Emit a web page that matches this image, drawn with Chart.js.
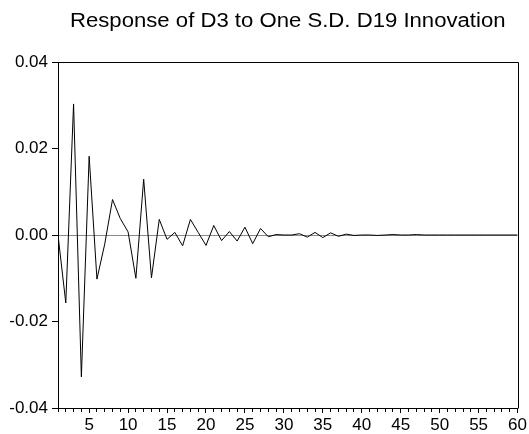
<!DOCTYPE html>
<html>
<head>
<meta charset="utf-8">
<script src="https://cdn.jsdelivr.net/npm/chart.js@4/dist/chart.umd.min.js"></script>
<style>
  html, body { margin: 0; padding: 0; background: #fff; }
  canvas { display: block; }
</style>
</head>
<body>
<canvas id="irf-canvas" width="529" height="434"></canvas>
<script>
// Impulse response: D3 to a one S.D. shock in D19
const periods = [
  1, 2, 3, 4, 5, 6, 7, 8, 9, 10,
  11, 12, 13, 14, 15, 16, 17, 18, 19, 20,
  21, 22, 23, 24, 25, 26, 27, 28, 29, 30,
  31, 32, 33, 34, 35, 36, 37, 38, 39, 40,
  41, 42, 43, 44, 45, 46, 47, 48, 49, 50,
  51, 52, 53, 54, 55, 56, 57, 58, 59, 60
];
const response = [
  0.0000, -0.0157, 0.0303, -0.0328, 0.0182, -0.0102, -0.0021, 0.0082, 0.0038, 0.0007,
  -0.0100, 0.0129, -0.0099, 0.0036, -0.0010, 0.0006, -0.0025, 0.0036, 0.0006, -0.0024,
  0.0022, -0.0013, 0.0008, -0.0014, 0.0018, -0.0020, 0.0015, -0.0004, 0.0001, 0.0000,
  0.0000, 0.0003, -0.0005, 0.0006, -0.0006, 0.0005, -0.0003, 0.0002, -0.0001, 0.0000,
  0.0000, -0.0001, 0.0000, 0.0001, 0.0000, 0.0000, 0.0001, 0.0000, 0.0000, 0.0000,
  0.0000, 0.0000, 0.0000, 0.0000, 0.0000, 0.0000, 0.0000, 0.0000, 0.0000, 0.0000
];
const yTicks = [-0.04, -0.02, 0.00, 0.02, 0.04];
const xLabelEvery = 5;
const titleText = 'Response of D3 to One S.D. D19 Innovation';

const FONT = 'Liberation Sans, Arial, sans-serif';
Chart.defaults.font.family = FONT;
Chart.defaults.color = '#000';

// top and right sides of the plot box, plus the title centred over the plot
const frameBox = {
  id: 'frameBox',
  afterDatasetsDraw(chart) {
    const { ctx, chartArea } = chart;
    const l = Math.round(chartArea.left) + 0.5;
    const t = Math.round(chartArea.top) + 0.5;
    const r = Math.round(chartArea.right) + 0.5;
    const b = Math.round(chartArea.bottom) + 0.5;
    ctx.save();
    ctx.strokeStyle = '#000';
    ctx.lineWidth = 1;
    ctx.beginPath();
    ctx.moveTo(l, t);
    ctx.lineTo(r, t);
    ctx.lineTo(r, b);
    ctx.stroke();

    // title text is a little wide for its height, so stretch it sideways
    const cx = (chartArea.left + chartArea.right) / 2;
    ctx.translate(cx, 27);
    ctx.scale(1.135, 1);
    ctx.fillStyle = '#000';
    ctx.font = '19.5px ' + FONT;
    ctx.textAlign = 'center';
    ctx.textBaseline = 'alphabetic';
    ctx.fillText(titleText, 0, 0);
    ctx.restore();
  }
};

const ctx = document.getElementById('irf-canvas');

const irfChart = new Chart(ctx, {
  type: 'line',
  data: {
    datasets: [{
      label: 'D3',
      data: periods.map((p, i) => ({ x: p, y: response[i] })),
      borderColor: '#000',
      borderWidth: 1,
      pointRadius: 0,
      tension: 0,
      fill: false
    }]
  },
  options: {
    responsive: false,
    animation: false,
    devicePixelRatio: 1,
    layout: {
      padding: { left: 0, right: 11, top: 62, bottom: 0 }
    },
    plugins: {
      legend: { display: false },
      tooltip: { enabled: false },
      title: { display: false }
    },
    scales: {
      x: {
        type: 'linear',
        min: periods[0],
        max: periods[periods.length - 1],
        border: { display: true, color: '#000', width: 1 },
        grid: {
          drawOnChartArea: false,
          tickLength: 5,
          tickColor: '#000',
          // minor ticks come out shorter than the labelled ones
          tickBorderDash: (c) => (c.tick && c.tick.value % xLabelEvery === 0) ? [] : [3, 20]
        },
        ticks: {
          stepSize: 1,
          maxTicksLimit: 100,
          autoSkip: false,
          maxRotation: 0,
          padding: 2,
          color: '#000',
          font: { family: FONT, size: 17 },
          callback: (v) => (v % xLabelEvery === 0 ? String(v) : '')
        },
        afterFit: (scale) => { scale.height = 26; }
      },
      y: {
        min: yTicks[0],
        max: yTicks[yTicks.length - 1],
        border: { display: true, color: '#000', width: 1 },
        grid: {
          // only the zero line is drawn across the plot
          color: (c) => (c.tick && Math.abs(c.tick.value) < 1e-9) ? '#8a8a8a' : 'rgba(0,0,0,0)',
          lineWidth: 1,
          tickLength: 6,
          tickColor: '#000'
        },
        afterBuildTicks: (scale) => {
          scale.ticks = yTicks.map(v => ({ value: v }));
        },
        ticks: {
          padding: 4,
          color: '#000',
          font: { family: FONT, size: 17 },
          callback: (v) => Number(v).toFixed(2)
        },
        afterFit: (scale) => { scale.width = 58; }
      }
    }
  },
  plugins: [frameBox]
});
</script>
</body>
</html>
